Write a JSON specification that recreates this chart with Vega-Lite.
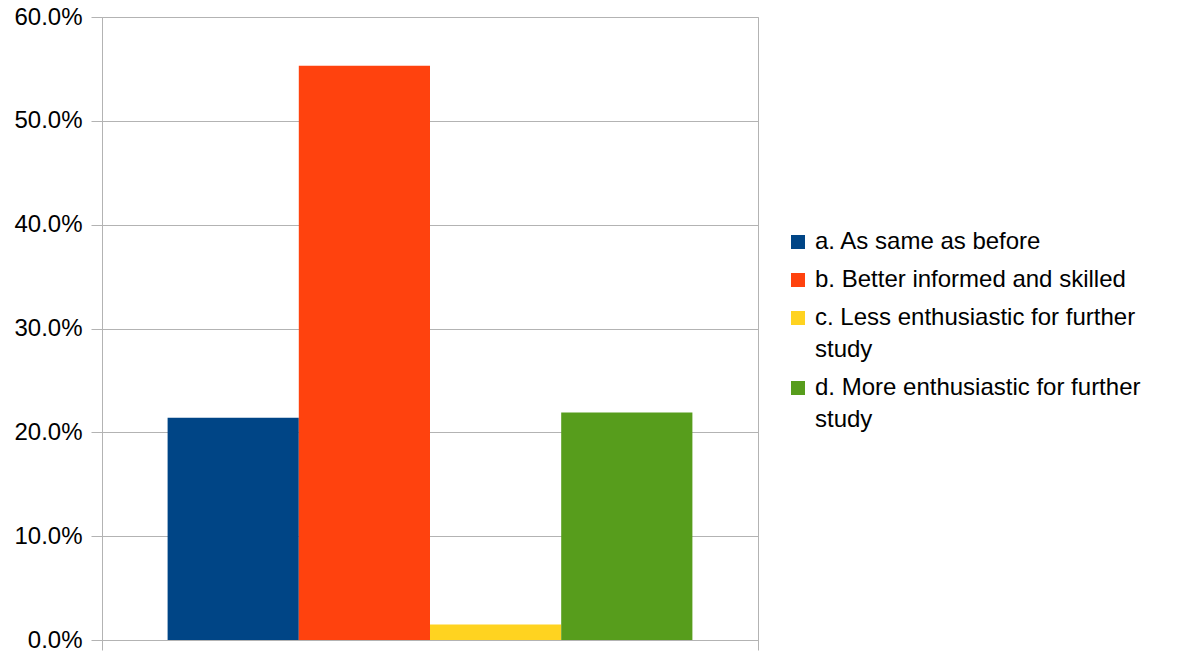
{
  "$schema": "https://vega.github.io/schema/vega-lite/v6.json",
  "autosize": {"type": "none"},
  "width": 656,
  "height": 623,
  "padding": {"left": 102, "top": 17, "right": 421, "bottom": 13},
  "background": "white",
  "config": {
    "font": "Liberation Sans",
    "view": {"stroke": "#b3b3b3", "strokeWidth": 1}
  },
  "data": {
    "values": [
      {"group": "", "response": "a. As same as before", "share": 0.214},
      {"group": "", "response": "b. Better informed and skilled", "share": 0.553},
      {"group": "", "response": "c. Less enthusiastic for further study", "share": 0.015},
      {"group": "", "response": "d. More enthusiastic for further study", "share": 0.219}
    ]
  },
  "mark": {"type": "bar"},
  "encoding": {
    "x": {
      "field": "group",
      "type": "nominal",
      "scale": {"paddingInner": 0, "paddingOuter": 0},
      "axis": {
        "title": null,
        "labels": false,
        "tickBand": "extent",
        "tickSize": 10,
        "tickColor": "#b3b3b3",
        "domainColor": "#b3b3b3",
        "grid": false
      }
    },
    "xOffset": {
      "field": "response",
      "type": "nominal",
      "scale": {"paddingInner": 0, "paddingOuter": 0.5}
    },
    "y": {
      "field": "share",
      "type": "quantitative",
      "scale": {"domain": [0, 0.6], "nice": false},
      "axis": {
        "title": null,
        "format": ".1%",
        "values": [0, 0.1, 0.2, 0.3, 0.4, 0.5, 0.6],
        "labelFont": "Liberation Sans",
        "labelFontSize": 24,
        "labelColor": "black",
        "labelPadding": 9,
        "tickSize": 11,
        "tickColor": "#b3b3b3",
        "gridColor": "#b3b3b3",
        "domain": false
      }
    },
    "color": {
      "field": "response",
      "type": "nominal",
      "scale": {"range": ["#004586", "#ff420e", "#ffd320", "#579d1c"]},
      "legend": {
        "title": null,
        "orient": "none",
        "legendX": 684,
        "legendY": 213,
        "padding": 0,
        "symbolType": "square",
        "symbolSize": 196,
        "symbolStrokeWidth": 0,
        "symbolOpacity": 1,
        "labelFont": "Liberation Sans",
        "labelFontSize": 24,
        "labelColor": "black",
        "labelOffset": 5,
        "labelLimit": 420,
        "rowPadding": 14,
        "encode": {"labels": {"update": {"lineHeight": {"value": 32}}}},
        "labelExpr": "datum.label == 'c. Less enthusiastic for further study' ? ['c. Less enthusiastic for further', 'study'] : datum.label == 'd. More enthusiastic for further study' ? ['d. More enthusiastic for further', 'study'] : datum.label"
      }
    }
  }
}
